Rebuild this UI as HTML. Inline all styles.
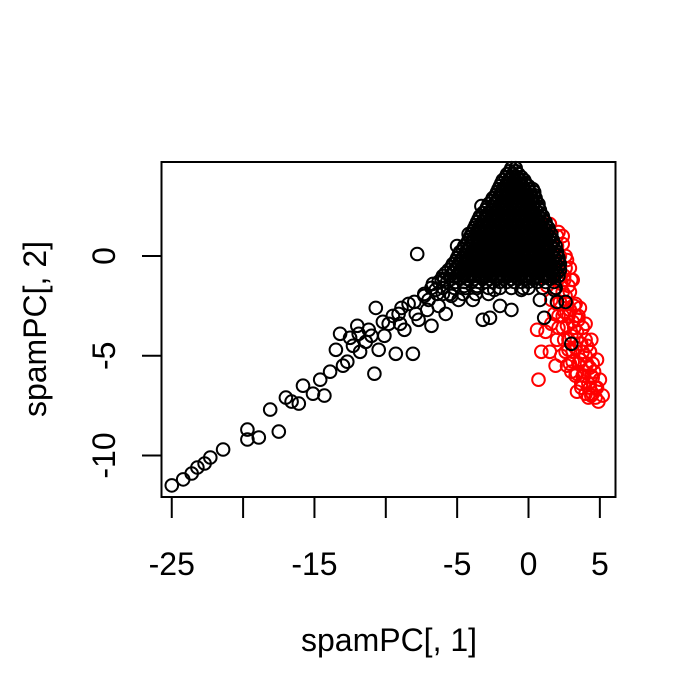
<!DOCTYPE html>
<html><head><meta charset="utf-8"><style>
html,body{margin:0;padding:0;background:#fff;}
svg{display:block;font-family:"Liberation Sans",Arial,sans-serif;}
</style></head><body>
<svg id="chart" width="700" height="700" viewBox="0 0 700 700" xmlns="http://www.w3.org/2000/svg">
<rect width="700" height="700" fill="#fff"/>
<g id="redLayer"></g>
<g id="blackLayer"></g>
<rect x="161.5" y="162" width="454" height="335" fill="none" stroke="#000" stroke-width="2"/>
<g id="xAxis"></g>
<g id="yAxis"></g>
<text x="389" y="651" font-size="32" text-anchor="middle">spamPC[, 1]</text>
<text transform="translate(46,329) rotate(-90)" font-size="32" text-anchor="middle">spamPC[, 2]</text>
</svg>
<script>
const xTicks = [-25, -20, -15, -10, -5, 0, 5];
const xTickLabels = ["-25", "", "-15", "", "-5", "0", "5"];
const yTicks = [-10, -5, 0];
const yTickLabels = ["-10", "-5", "0"];

const clusterRows = [
 [4.4, [-1.2,-0.9]],
 [4.1, [-1.5,-1.1,-0.7]],
 [3.8, [-1.8,-1.4,-1.0,-0.6,-0.3]],
 [3.5, [-2.0,-1.6,-1.2,-0.8,-0.4,0.0]],
 [3.2, [-2.2,-1.8,-1.4,-1.0,-0.6,-0.2,0.1,0.4]],
 [2.9, [-2.5,-2.1,-1.7,-1.3,-0.9,-0.5,-0.1,0.2,0.5]],
 [2.6, [-2.8,-2.4,-2.0,-1.6,-1.2,-0.8,-0.4,0.0,0.3,0.7]],
 [2.3, [-3.0,-2.6,-2.2,-1.8,-1.4,-1.0,-0.6,-0.2,0.2,0.5,0.8]],
 [2.0, [-3.4,-3.0,-2.6,-2.2,-1.8,-1.4,-1.0,-0.6,-0.2,0.2,0.5,0.7,1.0]],
 [1.7, [-3.6,-3.2,-2.8,-2.4,-2.0,-1.6,-1.2,-0.8,-0.4,0.0,0.4,0.7,0.9,1.2]],
 [1.4, [-3.8,-3.4,-3.0,-2.6,-2.2,-1.8,-1.4,-1.0,-0.6,-0.2,0.2,0.6,0.9,1.1,1.4]],
 [1.1, [-4.0,-3.6,-3.2,-2.8,-2.4,-2.0,-1.6,-1.2,-0.8,-0.4,0.0,0.4,0.8,1.1,1.3,1.6]],
 [0.8, [-4.2,-3.8,-3.4,-3.0,-2.6,-2.2,-1.8,-1.4,-1.0,-0.6,-0.2,0.2,0.6,1.0,1.4,1.7]],
 [0.5, [-4.5,-4.1,-3.7,-3.3,-2.9,-2.5,-2.1,-1.7,-1.3,-0.9,-0.5,-0.1,0.3,0.7,1.1,1.6,1.9]],
 [0.2, [-4.8,-4.4,-4.0,-3.6,-3.2,-2.8,-2.4,-2.0,-1.6,-1.2,-0.8,-0.4,0.0,0.4,0.8,1.2,1.7,2.0]],
 [-0.1, [-5.0,-4.6,-4.2,-3.8,-3.4,-3.0,-2.6,-2.2,-1.8,-1.4,-1.0,-0.6,-0.2,0.2,0.6,1.0,1.4,1.8,2.1]],
 [-0.4, [-5.3,-4.9,-4.5,-4.1,-3.7,-3.3,-2.9,-2.5,-2.1,-1.7,-1.3,-0.9,-0.5,-0.1,0.3,0.7,1.1,1.5,1.9,2.2]],
 [-0.7, [-5.6,-5.2,-4.8,-4.4,-4.0,-3.6,-3.2,-2.8,-2.4,-2.0,-1.6,-1.2,-0.8,-0.4,0.0,0.4,0.8,1.2,1.6,1.9,2.2]],
 [-1.0, [-6.0,-5.5,-5.0,-4.6,-4.2,-3.8,-3.4,-3.0,-2.6,-2.2,-1.8,-1.4,-1.0,-0.6,-0.2,0.2,0.6,1.0,1.4,1.8,2.1]],
 [-1.3, [-6.3,-5.7,-5.1,-4.5,-4.0,-3.5,-3.0,-2.5,-2.0,-1.5,-1.0,-0.5,0.0,0.6,1.2,1.8]],
 [-1.6, [-6.8,-6.0,-5.2,-4.4,-3.6,-2.8,-2.0,-1.2,-0.4,0.0,1.0,1.9]],
 [-1.9, [-7.3,-6.4,-5.5,-4.6,-3.7,-2.8]]
];

const clusterRows2 = [
 [4.25, [-1.3,-0.9]],
 [3.95, [-1.6,-1.2,-0.8,-0.5]],
 [3.65, [-1.9,-1.4,-1.0,-0.6,-0.2]],
 [3.35, [-2.1,-1.6,-1.2,-0.8,-0.4,0.0,0.3]],
 [3.05, [-2.3,-1.9,-1.5,-1.1,-0.7,-0.3,0.1,0.4]],
 [2.75, [-2.6,-2.2,-1.8,-1.4,-1.0,-0.6,-0.2,0.2,0.5]],
 [2.45, [-2.9,-2.5,-2.1,-1.7,-1.3,-0.9,-0.5,-0.1,0.3,0.7]],
 [2.15, [-3.2,-2.8,-2.4,-2.0,-1.6,-1.2,-0.8,-0.4,0.0,0.4,0.8]],
 [1.85, [-3.5,-3.0,-2.6,-2.2,-1.8,-1.4,-1.0,-0.6,-0.2,0.2,0.6,1.0]],
 [1.55, [-3.7,-3.2,-2.8,-2.4,-2.0,-1.6,-1.2,-0.8,-0.4,0.0,0.4,0.8,1.2]],
 [1.25, [-3.9,-3.4,-3.0,-2.6,-2.2,-1.8,-1.4,-1.0,-0.6,-0.2,0.2,0.6,1.0,1.4]],
 [0.95, [-4.1,-3.6,-3.2,-2.8,-2.4,-2.0,-1.6,-1.2,-0.8,-0.4,0.0,0.4,0.8,1.2,1.5]],
 [0.65, [-4.3,-3.9,-3.5,-3.1,-2.7,-2.3,-1.9,-1.5,-1.1,-0.7,-0.3,0.1,0.5,0.9,1.3,1.7]],
 [0.35, [-4.6,-4.2,-3.8,-3.4,-3.0,-2.6,-2.2,-1.8,-1.4,-1.0,-0.6,-0.2,0.2,0.6,1.0,1.4,1.8]],
 [0.05, [-4.9,-4.4,-4.0,-3.6,-3.2,-2.8,-2.4,-2.0,-1.6,-1.2,-0.8,-0.4,0.0,0.4,0.8,1.2,1.6,2.0]],
 [-0.25, [-5.1,-4.7,-4.3,-3.9,-3.5,-3.1,-2.7,-2.3,-1.9,-1.5,-1.1,-0.7,-0.3,0.1,0.5,0.9,1.3,1.7,2.1]],
 [-0.55, [-5.4,-5.0,-4.6,-4.2,-3.8,-3.4,-3.0,-2.6,-2.2,-1.8,-1.4,-1.0,-0.6,-0.2,0.2,0.6,1.0,1.4,1.8,2.1]],
 [-0.85, [-5.8,-5.3,-4.8,-4.4,-4.0,-3.6,-3.2,-2.8,-2.4,-2.0,-1.6,-1.2,-0.8,-0.4,0.0,0.4,0.8,1.2,1.6,2.0]],
 [-1.15, [-6.1,-5.4,-4.8,-4.3,-3.8,-3.2,-2.7,-2.2,-1.7,-1.2,-0.7,-0.2,0.3,0.9,1.5]]
];

const blackTail = [
 [-25,-11.5],[-24.2,-11.2],[-23.6,-10.9],[-23.2,-10.6],[-22.7,-10.4],[-22.3,-10.1],[-21.4,-9.7],
 [-19.7,-8.7],[-19.7,-9.2],[-18.9,-9.1],[-18.1,-7.7],[-17.5,-8.8],[-17,-7.1],[-16.6,-7.3],[-16.1,-7.4],
 [-15.8,-6.5],[-15.1,-6.9],[-14.6,-6.2],[-14.3,-7.0],[-13.9,-5.8],[-13.5,-4.7],[-13.2,-3.9],[-13,-5.5],
 [-12.7,-5.3],[-12.3,-4.5],[-11.9,-3.9],[-11.4,-4.3],[-11.2,-3.7],[-10.8,-5.9],[-10.7,-2.6],[-10.5,-4.7],
 [-10.1,-4.0],[-9.8,-3.4],[-9.3,-4.9],[-9.1,-2.9],[-8.7,-3.7],[-8.4,-2.4],[-8.1,-4.9],[-7.8,0.1],
 [-7.7,-3.2],[-7.3,-2.0],[-7.1,-2.7],[-6.8,-3.5],[-6.5,-1.7],[-6.3,-2.5],[-5.9,-1.2],[-5.8,-2.9],
 [-5.4,-2.0],[-5.2,-0.7],[-5.0,0.5],[-4.9,-2.2],[-4.5,-1.5],[-4.3,-0.2],[-4.2,1.1],[-3.9,-2.2],
 [-3.6,-1.5],[-3.3,2.5],[-3.2,-3.2],[-2.7,-3.1],[-2.4,-1.7],[-2.0,-2.5],[-1.2,-2.7],[-0.5,-1.7],
 [0.8,-2.2],[1.1,-3.1],[3.0,-4.4],[1.8,-1.7],[2.0,-2.3],[2.6,-2.3],[-9.5,-3.0],[-8.9,-2.6],
 [-11.8,-4.8],[-12.0,-3.5],[-7.9,-2.9],[-6.0,-1.9],[-3.0,0.9],[-10.2,-3.3],[-9.0,-3.4],[-8.0,-2.3],
 [-7.0,-2.2],[-6.7,-1.4],[-12.5,-4.1],[-11.0,-4.0]
];

const redPts = [
 [0.9,1.5],[1.2,1.0],[0.8,0.3],[1.4,0.2],[1.1,-0.4],[1.7,-0.3],[1.5,-1.0],[2.0,-0.8],[1.3,-1.5],
 [1.9,-1.6],[2.3,-1.4],[1.6,-2.2],[2.2,-2.3],[2.6,-2.0],[1.8,-2.9],[2.4,-3.0],[2.9,-2.7],[2.1,-3.6],
 [2.7,-3.5],[3.1,-3.3],[2.5,-4.2],[3.0,-4.0],[3.4,-3.8],[2.8,-4.7],[3.3,-4.6],[3.7,-4.4],[3.1,-5.3],
 [3.6,-5.2],[4.0,-5.0],[3.4,-5.9],[3.9,-5.8],[4.3,-5.6],[3.7,-6.4],[4.2,-6.4],[4.5,-6.1],[4.0,-6.9],
 [4.5,-6.9],[4.9,-7.3],[4.7,-6.6],[0.7,-6.2],[0.9,-4.8],[1.5,-4.8],[1.9,-5.5],[0.6,-3.7],[1.2,-3.8],
 [2.0,0.5],[1.5,1.6],[0.3,2.0],[2.5,-1.0],[3.5,-3.2],[4.1,-4.5],[4.6,-5.8],[2.8,-1.5],[3.2,-2.5],
 [3.8,-3.6],[4.3,-4.8],[2.2,0.0],[2.6,-0.6],[2.5,-2.8],[3.0,-5.8],[3.8,-6.0],[4.4,-7.0],[3.3,-3.0],
 [2.0,-4.2],[1.6,-3.4],[2.3,-5.0],[2.4,0.6],[2.7,-0.2],[3.0,-1.2],[3.6,-2.6],[4.0,-3.4],[4.4,-4.2],
 [4.8,-5.2],[5.0,-6.2],[5.2,-7.0],[3.4,-6.8],[2.7,-5.5],[2.1,1.2],
 [1.6,1.0],[2.0,1.0],[2.4,1.0],[1.8,0.0],[2.6,0.0],[2.2,-0.6],[2.9,-0.6],[2.0,-1.2],[2.5,-1.2],
 [3.1,-1.2],[2.4,-1.8],[2.9,-1.8],[2.0,-2.4],[2.7,-2.4],[3.3,-2.4],[2.1,-3.0],[2.8,-3.0],[3.5,-3.0],
 [2.4,-3.6],[3.2,-3.6],[3.8,-3.6],[2.8,-4.2],[3.4,-4.2],[4.0,-4.2],[2.6,-4.8],[3.1,-4.8],[3.8,-4.8],
 [4.3,-4.8],[2.9,-5.4],[3.5,-5.4],[4.1,-5.4],[4.5,-5.4],[3.3,-6.0],[3.9,-6.0],[4.4,-6.0],[3.7,-6.6],
 [4.3,-6.6],[4.8,-6.6],[4.2,-7.1],[4.7,-7.1]
];

const NS = "http://www.w3.org/2000/svg";
function sx(v){ return 528.5 + v * 14.27; }
function sy(v){ return 256 - v * 19.95; }

function circ(layer, x, y, color){
  const c = document.createElementNS(NS, "circle");
  c.setAttribute("cx", sx(x).toFixed(1));
  c.setAttribute("cy", sy(y).toFixed(1));
  c.setAttribute("r", "6.3");
  c.setAttribute("fill", "none");
  c.setAttribute("stroke", color);
  c.setAttribute("stroke-width", "2");
  
  
  layer.appendChild(c);
}
const redLayer = document.getElementById("redLayer");
const blackLayer = document.getElementById("blackLayer");
redPts.forEach(p => circ(redLayer, p[0], p[1], "#ff0000"));
clusterRows.forEach(r => r[1].forEach(x => circ(blackLayer, x, r[0], "#000")));
clusterRows2.forEach(r => r[1].forEach(x => circ(blackLayer, x, r[0], "#000")));
blackTail.forEach(p => circ(blackLayer, p[0], p[1], "#000"));

const xAxis = document.getElementById("xAxis");
xTicks.forEach((t, i) => {
  const l = document.createElementNS(NS, "line");
  l.setAttribute("x1", sx(t)); l.setAttribute("x2", sx(t));
  l.setAttribute("y1", 497); l.setAttribute("y2", 518);
  l.setAttribute("stroke", "#000"); l.setAttribute("stroke-width", "2");
  
  
  xAxis.appendChild(l);
  if (xTickLabels[i]) {
    const tx = document.createElementNS(NS, "text");
    tx.setAttribute("x", sx(t)); tx.setAttribute("y", 575);
    tx.setAttribute("font-size", "32"); tx.setAttribute("text-anchor", "middle");
    
    
    tx.textContent = xTickLabels[i];
    xAxis.appendChild(tx);
  }
});
const yAxis = document.getElementById("yAxis");
yTicks.forEach((t, i) => {
  const l = document.createElementNS(NS, "line");
  l.setAttribute("x1", 142); l.setAttribute("x2", 161.5);
  l.setAttribute("y1", sy(t)); l.setAttribute("y2", sy(t));
  l.setAttribute("stroke", "#000"); l.setAttribute("stroke-width", "2");
  
  
  yAxis.appendChild(l);
  const tx = document.createElementNS(NS, "text");
  tx.setAttribute("transform", "translate(115," + sy(t) + ") rotate(-90)");
  tx.setAttribute("font-size", "32"); tx.setAttribute("text-anchor", "middle");
  
  
  tx.textContent = yTickLabels[i];
  yAxis.appendChild(tx);
});
</script>
</body></html>
